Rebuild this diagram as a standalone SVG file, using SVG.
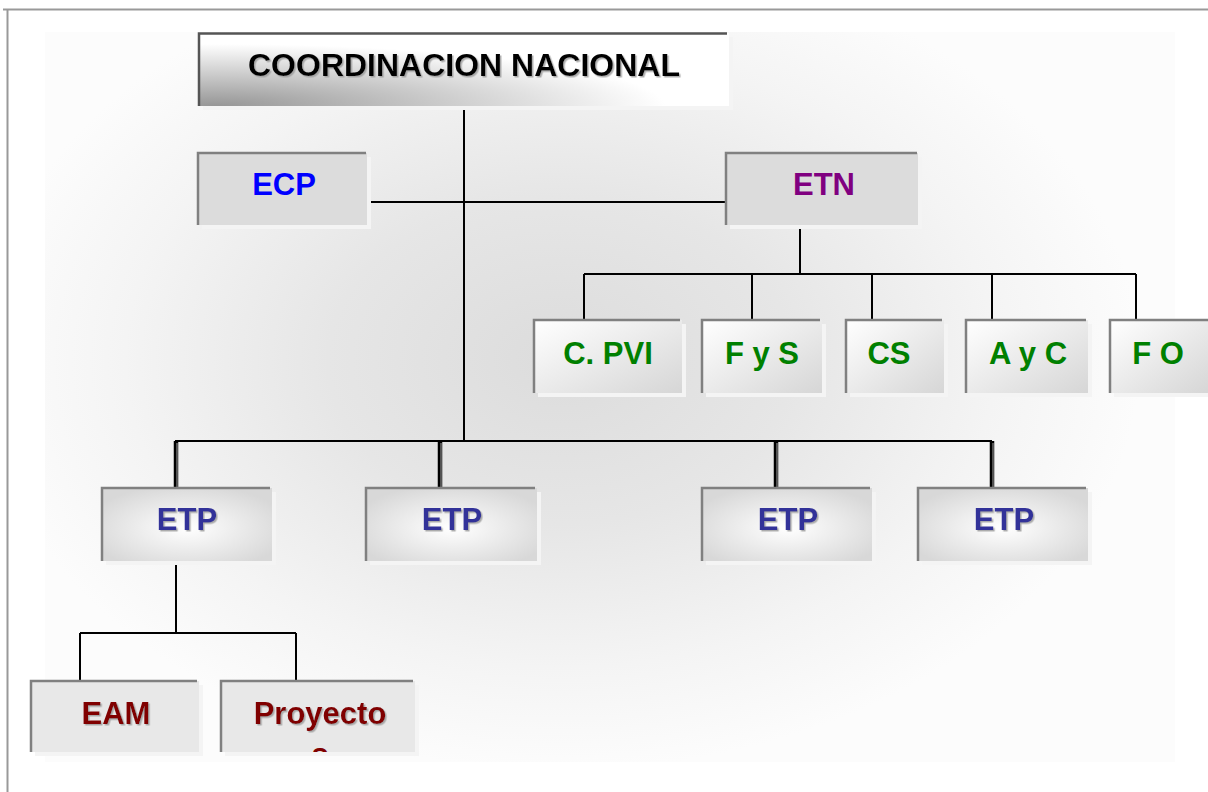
<svg xmlns="http://www.w3.org/2000/svg" width="1208" height="792" viewBox="0 0 1208 792">
<defs>
<radialGradient id="bg" gradientUnits="userSpaceOnUse" cx="0" cy="0" r="1" gradientTransform="translate(560 360) scale(580 410)">
<stop offset="0" stop-color="#dcdcdc"/>
<stop offset="0.4" stop-color="#e6e6e6"/>
<stop offset="0.75" stop-color="#f4f4f4"/>
<stop offset="1" stop-color="#fcfcfc"/>
</radialGradient>
<radialGradient id="gTop" cx="0.03" cy="1" r="0.85" fx="0.03" fy="1">
<stop offset="0" stop-color="#969696"/>
<stop offset="1" stop-color="#ffffff"/>
</radialGradient>
<linearGradient id="gGreen" x1="0" y1="0" x2="1" y2="1">
<stop offset="0" stop-color="#ffffff"/>
<stop offset="1" stop-color="#d6d6d6"/>
</linearGradient>
<radialGradient id="gEtp" cx="0.5" cy="0.55" r="0.6">
<stop offset="0" stop-color="#ffffff"/>
<stop offset="1" stop-color="#d8d8d8"/>
</radialGradient>
<filter id="ts" x="-10%" y="-20%" width="120%" height="140%">
<feDropShadow dx="1.5" dy="1.5" stdDeviation="0.4" flood-color="#999999" flood-opacity="0.8"/>
</filter>
<clipPath id="clipProy"><rect x="221" y="681" width="194" height="71"/></clipPath>
</defs>
<style>
.t{font-family:"Liberation Sans",Arial,sans-serif;font-weight:bold;font-size:31px;text-anchor:middle}
.bd{fill:none;stroke:#808080;stroke-width:2.5}
.sh{fill:#f4f4f4}
.ln{fill:none;stroke:#000;stroke-width:2}
.dbl{fill:none;stroke:#000;stroke-width:4.5}
.dbl2{fill:none;stroke:#8a8a8a;stroke-width:1.2}
.green{fill:#008000}
.etp{fill:#333399;filter:url(#ts)}
.red{fill:#800000;filter:url(#ts)}
</style>
<rect x="0" y="0" width="1208" height="792" fill="#ffffff"/>
<rect x="45" y="32" width="1130" height="730" fill="url(#bg)"/>
<path d="M3 9.5 H1208 M7.5 9 V792" fill="none" stroke="#999" stroke-width="2"/>

<g id="connectors">
<path class="ln" d="M464 106 V441"/>
<path class="ln" d="M368 202 H729"/>
<path class="ln" d="M800 225 V274 M584 274 H1136 M584 274 V320 M752 274 V320 M872 274 V320 M992 274 V320 M1136 274 V320"/>
<path class="ln" d="M175 441 H992"/>
<path class="dbl" d="M176 441 V488 M440 441 V488 M776 441 V488 M992 441 V488"/>
<path class="dbl2" d="M177 443 V488 M441 443 V488 M777 443 V488 M993 443 V488"/>
<path class="ln" d="M176 561 V633 M80 633 H296 M80 633 V681 M296 633 V681"/>
</g>

<g id="n-coord">
<rect class="sh" x="203" y="37" width="530" height="73"/>
<rect x="199" y="33" width="530" height="73" fill="url(#gTop)"/>
<path d="M199 106 V33.5 H727" fill="none" stroke="#555" stroke-width="2.5"/>
<text class="t" x="464" y="76" fill="#000" filter="url(#ts)" style="font-size:32px">COORDINACION NACIONAL</text>
</g>

<g id="n-ecp">
<rect class="sh" x="202" y="157" width="169" height="72"/>
<rect x="198" y="153" width="169" height="72" fill="#dcdcdc"/>
<path class="bd" d="M198 225 V153 H366"/>
<text class="t" x="284" y="195" fill="#0000ff">ECP</text>
</g>

<g id="n-etn">
<rect class="sh" x="730" y="157" width="192" height="72"/>
<rect x="726" y="153" width="192" height="72" fill="#dcdcdc"/>
<path class="bd" d="M726 225 V153 H917"/>
<text class="t" x="824" y="195" fill="#800080">ETN</text>
</g>

<g id="n-cpvi">
<rect class="sh" x="538" y="324" width="148" height="73"/>
<rect x="534" y="320" width="148" height="73" fill="url(#gGreen)"/>
<path class="bd" d="M534 393 V320 H680"/>
<text class="t green" x="608" y="364">C. PVI</text>
</g>
<g id="n-fys">
<rect class="sh" x="706" y="324" width="120" height="73"/>
<rect x="702" y="320" width="120" height="73" fill="url(#gGreen)"/>
<path class="bd" d="M702 393 V320 H820"/>
<text class="t green" x="762" y="364">F y S</text>
</g>
<g id="n-cs">
<rect class="sh" x="850" y="324" width="98" height="73"/>
<rect x="846" y="320" width="98" height="73" fill="url(#gGreen)"/>
<path class="bd" d="M846 393 V320 H942"/>
<text class="t green" x="889" y="364">CS</text>
</g>
<g id="n-ayc">
<rect class="sh" x="970" y="324" width="122" height="73"/>
<rect x="966" y="320" width="122" height="73" fill="url(#gGreen)"/>
<path class="bd" d="M966 393 V320 H1086"/>
<text class="t green" x="1028" y="364">A y C</text>
</g>
<g id="n-fo">
<rect class="sh" x="1114" y="324" width="98" height="73"/>
<rect x="1110" y="320" width="98" height="73" fill="url(#gGreen)"/>
<path class="bd" d="M1110 393 V320 H1208"/>
<text class="t green" x="1158" y="364">F O</text>
</g>

<g id="n-etp1">
<rect class="sh" x="106" y="492" width="170" height="73"/>
<rect x="102" y="488" width="170" height="73" fill="url(#gEtp)"/>
<path class="bd" d="M102 561 V488 H270"/>
<text class="t etp" x="187" y="530">ETP</text>
</g>
<g id="n-etp2">
<rect class="sh" x="370" y="492" width="171" height="73"/>
<rect x="366" y="488" width="171" height="73" fill="url(#gEtp)"/>
<path class="bd" d="M366 561 V488 H535"/>
<text class="t etp" x="452" y="530">ETP</text>
</g>
<g id="n-etp3">
<rect class="sh" x="706" y="492" width="170" height="73"/>
<rect x="702" y="488" width="170" height="73" fill="url(#gEtp)"/>
<path class="bd" d="M702 561 V488 H870"/>
<text class="t etp" x="788" y="530">ETP</text>
</g>
<g id="n-etp4">
<rect class="sh" x="922" y="492" width="170" height="73"/>
<rect x="918" y="488" width="170" height="73" fill="url(#gEtp)"/>
<path class="bd" d="M918 561 V488 H1086"/>
<text class="t etp" x="1004" y="530">ETP</text>
</g>

<g id="n-eam">
<rect class="sh" x="35" y="685" width="168" height="71"/>
<rect x="31" y="681" width="168" height="71" fill="#e8e8e8"/>
<path class="bd" d="M31 752 V681 H197"/>
<text class="t red" x="116" y="724">EAM</text>
</g>
<g id="n-proy">
<rect class="sh" x="225" y="685" width="194" height="71"/>
<rect x="221" y="681" width="194" height="71" fill="#e8e8e8"/>
<path class="bd" d="M221 752 V681 H413"/>
<text class="t red" x="320" y="724">Proyecto</text>
<text class="t" x="320" y="765" fill="#800000" clip-path="url(#clipProy)">s</text>
</g>
</svg>
